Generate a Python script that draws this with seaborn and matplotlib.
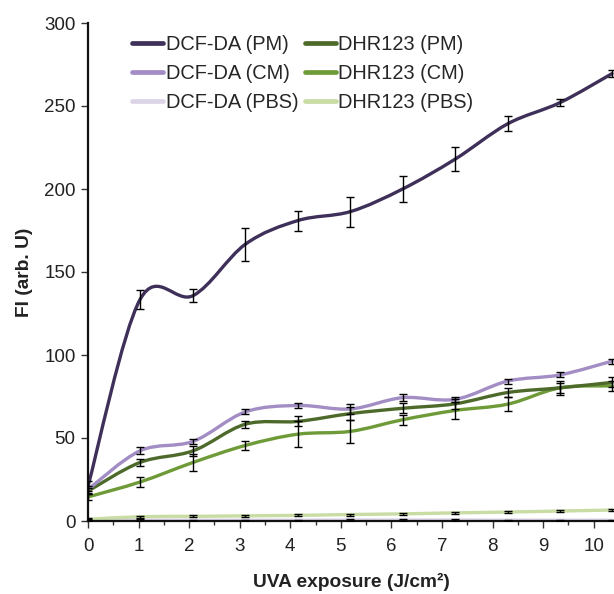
import matplotlib
matplotlib.use("Agg")
import matplotlib.pyplot as plt
import seaborn as sns
from matplotlib.path import Path
from matplotlib.patches import PathPatch
from matplotlib.lines import Line2D
from matplotlib.ticker import MultipleLocator

# ---- data ----
uva = [0, 1.03, 2.08, 3.11, 4.15, 5.19, 6.22, 7.26, 8.30, 9.33, 10.36]

dcf_pm = [21, 133.5, 135.8, 166.7, 181, 186.4, 200, 218, 239.3, 252, 269.5]
dcf_pm_err = [3, 5.5, 4, 10, 6, 9, 8, 7, 4.4, 2, 2]

dcf_cm = [19, 42.3, 48, 65.7, 69.6, 67.5, 74.3, 73.3, 84.3, 88, 96.3]
dcf_cm_err = [2, 2, 1.5, 1.5, 1.5, 3, 2, 1.5, 1.5, 1.5, 1.5]

dcf_pbs = [0.6, 0.6, 0.5, 0.5, 0.5, 0.6, 0.6, 0.6, 0.5, 0.5, 0.5]
dcf_pbs_err = [0.4, 0.4, 0.4, 0.4, 0.4, 0.4, 0.4, 0.4, 0.4, 0.4, 0.4]

dhr_pm = [18, 35.3, 42.3, 58.3, 60, 64.7, 67.9, 70.6, 77.4, 80.2, 83.5]
dhr_pm_err = [2, 2, 3, 2, 3, 4, 3, 3, 3, 3, 3]

dhr_cm = [14.5, 23.5, 35.3, 45.5, 52.3, 54, 61, 66.6, 70.4, 80.2, 81.4]
dhr_cm_err = [2, 3, 5, 2.5, 8, 7, 3, 5, 4, 4, 3]

dhr_pbs = [1.0, 2.6, 2.8, 3.1, 3.4, 3.9, 4.3, 4.9, 5.4, 6.0, 6.6]
dhr_pbs_err = [0.6, 0.6, 0.6, 0.6, 0.6, 0.6, 0.6, 0.6, 0.6, 0.6, 0.6]

labels = ["DCF-DA (PM)", "DCF-DA (CM)", "DCF-DA (PBS)",
          "DHR123 (PM)", "DHR123 (CM)", "DHR123 (PBS)"]
colors = ["#3e3058", "#a28dc4", "#dcd5e8", "#4d6a2b", "#6e9b38", "#c8dca4"]


def smooth_path(x, y):
    # spreadsheet-style smoothed line: Catmull-Rom segments as cubic Beziers
    verts = [(x[0], y[0])]
    codes = [Path.MOVETO]
    n = len(x)
    for i in range(n - 1):
        i0 = max(i - 1, 0)
        i3 = min(i + 2, n - 1)
        c1 = (x[i] + (x[i + 1] - x[i0]) / 6, y[i] + (y[i + 1] - y[i0]) / 6)
        c2 = (x[i + 1] - (x[i3] - x[i]) / 6, y[i + 1] - (y[i3] - y[i]) / 6)
        verts += [c1, c2, (x[i + 1], y[i + 1])]
        codes += [Path.CURVE4] * 3
    return Path(verts, codes)


sns.set_style("ticks")
plt.rcParams["font.family"] = ["Liberation Sans", "DejaVu Sans"]

fig = plt.figure(figsize=(6.14, 5.94), dpi=100)
ax = fig.add_axes([88 / 614, 73 / 594, 526 / 614, 498 / 594])

series = [(dcf_pbs, dcf_pbs_err), (dhr_pbs, dhr_pbs_err),
          (dhr_cm, dhr_cm_err), (dhr_pm, dhr_pm_err),
          (dcf_cm, dcf_cm_err), (dcf_pm, dcf_pm_err)]
order = [2, 5, 4, 3, 1, 0]

for (vals, err), k in zip(series, order):
    ax.add_patch(PathPatch(smooth_path(uva, vals), fill=False,
                           edgecolor=colors[k], lw=2.4, zorder=2,
                           capstyle="round"))
    ax.errorbar(uva, vals, yerr=err, fmt="none", ecolor="black",
                elinewidth=1.0, capsize=2.6, capthick=1.0, zorder=3)

ax.set_xlim(0, 10.4)
ax.set_ylim(0, 300)
ax.xaxis.set_major_locator(MultipleLocator(1))
ax.xaxis.set_minor_locator(MultipleLocator(0.5))
ax.yaxis.set_major_locator(MultipleLocator(50))
ax.tick_params(axis="both", which="major", labelsize=13.5, length=5,
               width=1, color="#333333", labelcolor="#222222")
ax.tick_params(axis="x", which="major", pad=7)
ax.tick_params(axis="y", which="major", pad=4)
ax.tick_params(axis="x", which="minor", length=3, width=1, color="#333333")

for side in ["left", "bottom"]:
    ax.spines[side].set_linewidth(1.6)
    ax.spines[side].set_color("#111111")
sns.despine(ax=ax)

ax.set_xlabel("UVA exposure (J/cm²)", fontsize=13.8, fontweight="bold",
              color="#222222", labelpad=13)
ax.set_ylabel("FI (arb. U)", fontsize=13.8, fontweight="bold",
              color="#222222", labelpad=8)

handles = [Line2D([0], [0], color=c, lw=3.4) for c in colors]
ax.legend(handles, labels, ncol=2, frameon=False, fontsize=14.4,
          loc="upper left", bbox_to_anchor=(0.084, 0.976), borderpad=0,
          handlelength=1.55, handletextpad=0.12, columnspacing=0.33,
          labelspacing=0.5, borderaxespad=0)

fig.savefig("out.png", dpi=100)
